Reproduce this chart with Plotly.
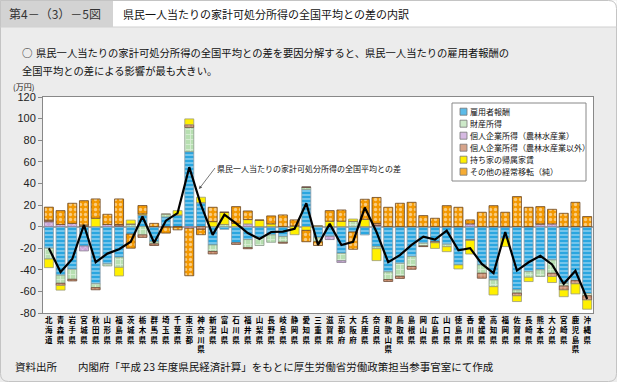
import plotly.graph_objects as go

prefs = ["北海道","青森県","岩手県","宮城県","秋田県","山形県","福島県","茨城県","栃木県","群馬県",
         "埼玉県","千葉県","東京都","神奈川県","新潟県","富山県","石川県","福井県","山梨県","長野県",
         "岐阜県","静岡県","愛知県","三重県","滋賀県","京都府","大阪府","兵庫県","奈良県","和歌山県",
         "鳥取県","島根県","岡山県","広島県","山口県","徳島県","香川県","愛媛県","高知県","福岡県",
         "佐賀県","長崎県","熊本県","大分県","宮崎県","鹿児島県","沖縄県"]

# 雇用者報酬
employee = [-20,-45,-39.5,-18,-53,-34.6,-28.4,-7,10.8,-14,
            9,10.8,69.4,22.2,-17,-2.5,-15,-12,-10,-7.7,
            -9.3,0,34.5,-10,-9,-24.7,-5,-7.7,-18.5,-42,
            -34,-27.8,-15.4,-14,-16.4,-35.5,-12.3,-35.5,-49.4,-10.8,
            -58.6,-41.7,-40,-30.9,-52.5,-50,-62]
# 財産所得
property_inc = [-10,-7.5,-9.3,0,-3.5,-1.8,-9.3,2.5,-7.7,-2,
                2.5,0,22.5,0,-6,2,0,-7.5,-7.5,-6.8,
                -5.2,0,2,-4,0,-7,5,0,-2,-7,
                -12,-9.2,-2.5,0,-2.2,0,0,-7.7,-6.2,0,
                -3,-5.2,-6.2,-12.3,-2.5,0,-2]
# 個人企業所得（農林水産業）
agri = [4.5,2,3,-4.5,0,2,0.5,0,0,0,
        0,0,-1.5,0,0,0,0,2.5,0,0,
        0,0.6,0,0.5,-3,-1.5,0,0,1,0,
        0,0,0,0,0,0,2.5,0,0,0,
        0,0,2.5,2.5,0,0,0]
# 個人企業所得（農林水産業以外）
business = [1.5,-2,-1.5,1.5,-2,0,1.5,0,-2.3,-1.5,
            -0.5,-0.5,2.5,-2.5,-2.3,0,-1.5,-1,0,0,
            -0.9,0,0,0,0,0,0,0,2,-1.8,
            -2,-2.5,-0.6,-1,0,0,-0.6,-4.6,0,0,
            -2.5,0,0,-3,-3.7,-3,-4]
# 持ち家の帰属家賃
rent = [-8,-4.3,0,0,7.7,0,-8,3.5,1,0,
        0,4,5.3,5,4.6,11.3,3,4,6,2.5,
        0,-7.5,-3.5,0,5,5,2,6.8,-11,0,
        0,0,0,-5.2,-4.6,-3.7,-12.5,0,-7.7,-7.7,
        -5.3,-4,0,-5.6,-6.2,-9.3,-8.5]
# その他の経常移転（純）
other = [12,12.8,18.6,22.5,17.9,9.4,23.6,-13,7.7,3,
         -5.5,-2.5,-44,-5,13.3,0,15.5,8,0,7.4,
         10.8,5.6,-10.5,-3.5,9.8,10.4,-16,18.5,24,17.9,
         21.6,22.5,10.2,7.7,19.4,17.9,3.7,13.3,19.4,13.3,
         27.8,17.9,16,13.5,12.3,22.5,9.3]
# 県民一人当たりの家計可処分所得の全国平均との差
total = [-20,-42,-30,1.5,-33,-25,-21,-14,9.3,-15,
         5.5,12.5,55,20,-7.7,11,3,-6,-11.5,-5,
         -4.6,-2,21.6,-17,2.5,-17,-14,17.6,-5,-33,
         -26.4,-17,-9.3,-12,-3.7,-22,-20,-34.5,-43,-5,
         -40.7,-33,-27,-35,-53,-41,-67]

series_names = ["雇用者報酬", "財産所得", "個人企業所得（農林水産業）",
                "個人企業所得（農林水産業以外）", "持ち家の帰属家賃", "その他の経常移転（純）"]
y_tickvals = [-80, -60, -40, -20, 0, 20, 40, 60, 80, 100, 120]
y_ticktext = ["-80", "-60", "-40", "-20", "0", "20", "40", "60", "80", "100", "120"]

W, H = 621, 385
L, R, T, B = 43, 28, 97, 72
PW, PH = W - L - R, H - T - B


def px(x):
    return (x - L) / PW


def py(y):
    return (H - B - y) / PH


styles = [
    dict(color="#2aa6e0", pat=dict(shape="-", size=4, solidity=0.35), line="#8a9aa6"),
    dict(color="#b7dfb1", pat=dict(shape="+", size=5, solidity=0.3), line="#8c9a8c"),
    dict(color="#c7a2d8", pat=dict(shape="x", size=4, solidity=0.3), line="#8a7f90"),
    dict(color="#c98868", pat=dict(shape="+", size=4, solidity=0.3), line="#6b4a36"),
    dict(color="#fff000", pat=None, line="#9a9a7a"),
    dict(color="#f39800", pat=dict(shape=".", size=5, solidity=0.35), line="#6b4520"),
]
swatch_colors = ["#5cbbe8", "#cde9c9", "#d6b9e2", "#d7a48b", "#fff000", "#f6ac33"]

fig = go.Figure()
for name, vals, st in zip(series_names, [employee, property_inc, agri, business, rent, other], styles):
    marker = dict(color=st["color"], line=dict(color=st["line"], width=0.8))
    if st["pat"]:
        marker["pattern"] = dict(fillmode="overlay", fgcolor="white", **st["pat"])
    fig.add_trace(go.Bar(x=prefs, y=vals, name=name, marker=marker, showlegend=False))

fig.add_trace(go.Scatter(x=prefs, y=total, mode="lines", line=dict(color="black", width=2.2),
                         showlegend=False, name="県民一人当たりの家計可処分所得の全国平均との差"))

ticklabels = ["<br>".join(list(p)) for p in prefs]

fig.update_layout(
    width=W, height=H,
    margin=dict(l=L, r=R, t=T, b=B, pad=0),
    barmode="relative", bargap=0.23,
    paper_bgcolor="#ececec", plot_bgcolor="white",
    font=dict(family="Noto Sans CJK JP", color="#111"),
    xaxis=dict(tickmode="array", tickvals=prefs, ticktext=ticklabels,
               tickfont=dict(size=7.5, color="#000", family="Noto Sans CJK JP", weight="bold"),
               tickangle=0, showline=True, mirror=True, linecolor="#888", linewidth=1,
               showgrid=False, ticks="", automargin=False),
    yaxis=dict(range=[-80, 120], tickmode="array", tickvals=y_tickvals, ticktext=y_ticktext,
               tickfont=dict(size=11, color="#222", family="Liberation Sans"),
               showline=True, mirror=True, linecolor="#888", linewidth=1,
               showgrid=False, ticks="outside", ticklen=4, tickcolor="#888",
               zeroline=True, zerolinecolor="#a8a8a8", zerolinewidth=1.5, automargin=False),
)

shapes = []
# white strips outside rounded panel
shapes.append(dict(type="rect", xref="paper", yref="paper", x0=px(617), x1=px(W + 2), y0=py(H + 2), y1=py(-2),
                   fillcolor="white", line=dict(width=0), layer="above"))
shapes.append(dict(type="rect", xref="paper", yref="paper", x0=px(-2), x1=px(W + 2), y0=py(H + 2), y1=py(382),
                   fillcolor="white", line=dict(width=0), layer="above"))
# header white area
shapes.append(dict(type="rect", xref="paper", yref="paper", x0=px(113), x1=px(616.5), y0=py(27), y1=py(0.5),
                   fillcolor="white", line=dict(width=0), layer="above"))
# header grey label box
shapes.append(dict(type="rect", xref="paper", yref="paper", x0=px(0), x1=px(113), y0=py(27), y1=py(0),
                   fillcolor="#d3d3d3", line=dict(width=0), layer="above"))
# panel outline with rounded corners
r = 8
path = f"M {px(0.5)},{py(0.5)} L {px(616.5 - r)},{py(0.5)} Q {px(616.5)},{py(0.5)} {px(616.5)},{py(0.5 + r)} " \
       f"L {px(616.5)},{py(381.5 - r)} Q {px(616.5)},{py(381.5)} {px(616.5 - r)},{py(381.5)} " \
       f"L {px(0.5 + r)},{py(381.5)} Q {px(0.5)},{py(381.5)} {px(0.5)},{py(381.5 - r)} Z"
shapes.append(dict(type="path", xref="paper", yref="paper", path=path,
                   line=dict(color="#c4c4c4", width=1), layer="above"))
shapes.append(dict(type="line", xref="paper", yref="paper", x0=px(0.5), x1=px(616.5), y0=py(27), y1=py(27),
                   line=dict(color="#d0d0d0", width=1), layer="above"))

# legend box
shapes.append(dict(type="rect", xref="paper", yref="paper", x0=px(452), x1=px(586), y0=py(181), y1=py(103),
                   fillcolor="white", line=dict(color="#888", width=1), layer="above"))
rows = [111.7, 123.7, 135.7, 147.7, 159.7, 171.7]
annotations = []
for yc, c, name in zip(rows, swatch_colors, series_names):
    shapes.append(dict(type="rect", xref="paper", yref="paper", x0=px(460), x1=px(467), y0=py(yc + 3.5),
                       y1=py(yc - 3.5), fillcolor=c, line=dict(color="#777", width=0.8), layer="above"))
    annotations.append(dict(xref="paper", yref="paper", x=px(468), y=py(yc), xanchor="left", yanchor="middle",
                            text=name, showarrow=False, font=dict(size=8, color="#111")))

annotations += [
    dict(xref="paper", yref="paper", x=px(55), y=py(14), xanchor="center", yanchor="middle",
         text="第4－（3）－5図", showarrow=False, font=dict(size=12, color="#333")),
    dict(xref="paper", yref="paper", x=px(121), y=py(14), xanchor="left", yanchor="middle",
         text="県民一人当たりの家計可処分所得の全国平均との差の内訳", showarrow=False,
         font=dict(size=11, color="#111")),
    dict(xref="paper", yref="paper", x=px(20), y=py(52), xanchor="left", yanchor="middle",
         text="○", showarrow=False, font=dict(size=10.5, color="#111")),
    dict(xref="paper", yref="paper", x=px(34), y=py(52), xanchor="left", yanchor="middle",
         text="県民一人当たりの家計可処分所得の全国平均との差を要因分解すると、県民一人当たりの雇用者報酬の",
         showarrow=False, font=dict(size=10.3, color="#111")),
    dict(xref="paper", yref="paper", x=px(20), y=py(70), xanchor="left", yanchor="middle",
         text="全国平均との差による影響が最も大きい。", showarrow=False, font=dict(size=10.3, color="#111")),
    dict(xref="paper", yref="paper", x=px(11), y=py(86), xanchor="left", yanchor="middle",
         text="(万円)", showarrow=False, font=dict(size=8, color="#111")),
    dict(xref="paper", yref="paper", x=px(13), y=py(366), xanchor="left", yanchor="middle",
         text="資料出所　　内閣府「平成 23 年度県民経済計算」をもとに厚生労働省労働政策担当参事官室にて作成",
         showarrow=False, font=dict(size=10.5, color="#111")),
    dict(xref="paper", yref="paper", x=px(199), y=py(189), ax=16, ay=-21, xanchor="left", yanchor="middle",
         text="県民一人当たりの家計可処分所得の全国平均との差", showarrow=True, arrowhead=2,
         arrowsize=0.8, arrowwidth=0.8, arrowcolor="#555", font=dict(size=8, color="#111")),
]

fig.update_layout(shapes=shapes, annotations=annotations)
fig.write_html("out.html", config={"displayModeBar": False},
               post_script="document.body.style.margin='0';document.body.style.overflow='hidden';")
